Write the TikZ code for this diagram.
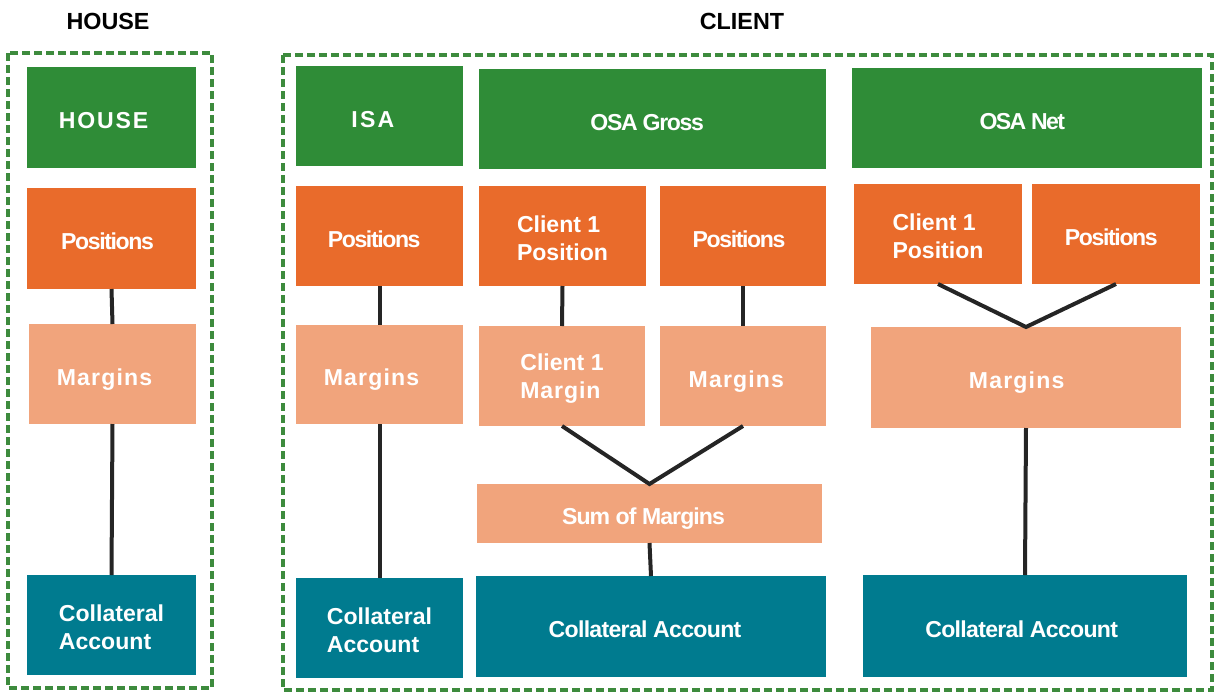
\documentclass[tikz,border=0pt]{standalone}
\usepackage{fontspec}
\setmainfont{Liberation Sans}
\definecolor{cgreen}{HTML}{2F8C37}
\definecolor{corange}{HTML}{E96B2B}
\definecolor{csalmon}{HTML}{F1A47C}
\definecolor{cteal}{HTML}{007B8F}
\definecolor{cdash}{HTML}{3D8B3D}
\definecolor{cline}{HTML}{252525}
\newcommand\lsp[1]{\addfontfeature{LetterSpace=#1}}
\newcommand\tsp[1]{\hspace*{#1pt}}
\newcommand\tstrut{\rule{0pt}{16.5pt}}
\begin{document}
\begin{tikzpicture}[x=0.75pt,y=-0.75pt,
  box/.style={inner sep=0pt, outer sep=0pt, text=white, align=center,
    font=\fontsize{17.3}{21}\selectfont\bfseries},
  sl/.style={text height=16.5pt, text depth=0pt},
  rc/.style n args={4}{minimum width={(#3-#1)*0.75pt}, minimum height={(#4-#2)*0.75pt},
    at={({(#1+#3)/2},{(#2+#4)/2})}},
  gbox/.style={box, fill=cgreen},
  obox/.style={box, fill=corange},
  sbox/.style={box, fill=csalmon},
  tbox/.style={box, fill=cteal},
  conn/.style={draw=cline, line width=3pt},
  grp/.style={draw=cdash, line width=3pt, dash pattern=on 6pt off 3pt},
  ttl/.style={font=\fontsize{17.5}{20}\selectfont\bfseries, text=black}]
\useasboundingbox (0,0) rectangle (1215,693);

% titles
\node[ttl] (thouse) at (108,21) {HOUSE};
\node[ttl] (tclient) at (742,21) {CLIENT};

% groups
\draw[grp] (8,53) rectangle (212,688);
\draw[grp] (283,55) rectangle (1212,690);

% HOUSE column
\node[gbox, sl, rc={27}{67}{196}{168}] (hhead) {\lsp{8}HOUSE\tsp{12}};
\node[obox, sl, rc={27}{188}{196}{289}] (hpos) {\lsp{-6}Positions\tsp{6}};
\node[sbox, sl, rc={29}{324}{196}{424}] (hmar) {\lsp{5}Margins\tsp{12}};
\node[tbox, rc={27}{575}{196}{675}, align=left] (hcol) {\tstrut Collateral\\Account};

% ISA column
\node[gbox, sl, rc={296}{66}{463}{166}] (ihead) {\lsp{10}ISA\tsp{10}};
\node[obox, sl, rc={296}{186}{463}{286}] (ipos) {\lsp{-6}Positions\tsp{8}};
\node[sbox, sl, rc={296}{325}{463}{424}] (imar) {\lsp{5}Margins\tsp{12}};
\node[tbox, rc={296}{578}{463}{678}, align=left] (icol) {\tstrut Collateral\\Account};

% OSA Gross
\node[gbox, sl, rc={479}{69}{826}{169}] (ghead) {\lsp{-6}OSA Gross\tsp{8}};
\node[obox, rc={479}{186}{646}{286}, align=left] (gc1p) {\tstrut Client 1\\Position};
\node[obox, sl, rc={660}{186}{826}{286}] (gpp) {\lsp{-6}Positions\tsp{6}};
\node[sbox, rc={479}{326}{645}{426}, align=left] (gc1m) {\tstrut Client 1\\\lsp{4}Margin};
\node[sbox, sl, rc={660}{326}{826}{426}] (gpm) {\lsp{5}Margins\tsp{10}};
\node[sbox, sl, rc={477}{484}{822}{543}] (gsum) {\lsp{-4}Sum of Margins\tsp{9}};
\node[tbox, sl, rc={476}{576}{826}{677}] (gcol) {\lsp{-3}Collateral Account\tsp{9}};

% OSA Net
\node[gbox, sl, rc={852}{68}{1202}{168}] (nhead) {\lsp{-7}OSA Net\tsp{7}};
\node[obox, rc={854}{184}{1022}{284}, align=left] (nc1p) {\tstrut Client 1\\Position};
\node[obox, sl, rc={1032}{184}{1200}{284}] (npp) {\lsp{-6}Positions\tsp{7}};
\node[sbox, sl, rc={871}{327}{1181}{428}] (nmar) {\lsp{5}Margins\tsp{14}};
\node[tbox, sl, rc={863}{575}{1187}{677}] (ncol) {\lsp{-3}Collateral Account\tsp{5}};

% connectors
\draw[conn] (hpos.south) -- (hmar.north);
\draw[conn] (hmar.south) -- (hcol.north);
\draw[conn] (ipos.south) -- (imar.north);
\draw[conn] (imar.south) -- (icol.north);
\draw[conn] (gc1p.south) -- (gc1m.north);
\draw[conn] (gpp.south) -- (gpm.north);
\draw[conn] (gc1m.south) -- (gsum.north) -- (gpm.south);
\draw[conn] (gsum.south) -- (gcol.north);
\draw[conn] (nc1p.south) -- (nmar.north) -- (npp.south);
\draw[conn] (nmar.south) -- (ncol.north);
\end{tikzpicture}
\end{document}
